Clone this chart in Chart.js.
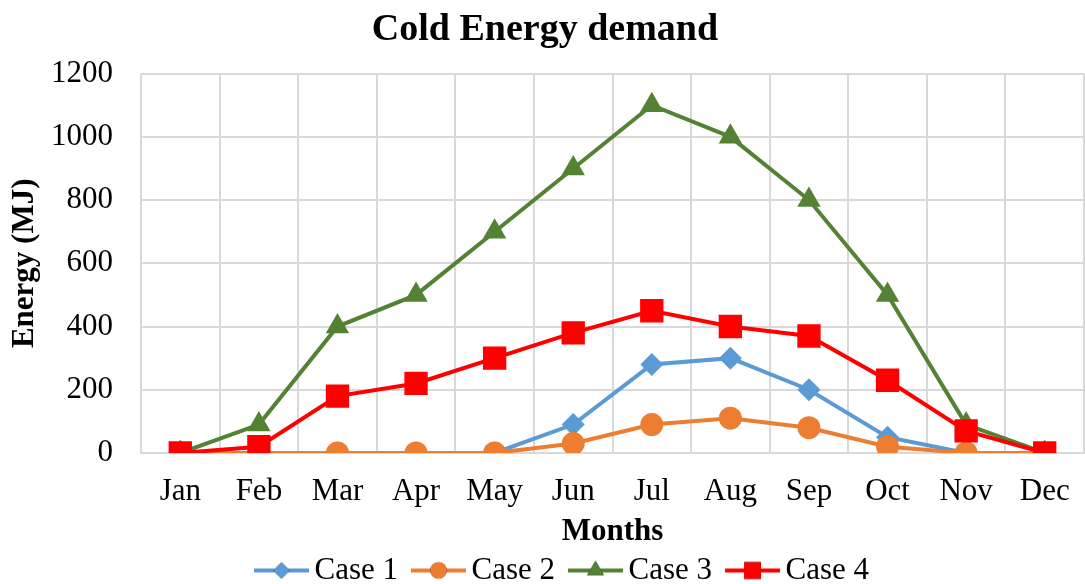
<!DOCTYPE html>
<html>
<head>
<meta charset="utf-8">
<script src="https://cdn.jsdelivr.net/npm/chart.js@4/dist/chart.umd.min.js"></script>
<style>
  html, body { margin: 0; padding: 0; background: #fff; }
  #wrap { width: 1085px; height: 584px; }
</style>
</head>
<body>
<div id="wrap"><canvas id="myChart" width="1085" height="584"></canvas></div>
<script>
const months = ["Jan", "Feb", "Mar", "Apr", "May", "Jun", "Jul", "Aug", "Sep", "Oct", "Nov", "Dec"];
const case1 = [0, 0, 0, 0, 0, 90, 280, 300, 200, 50, 0, 0];
const case2 = [0, 0, 0, 0, 0, 30, 90, 110, 80, 20, 0, 0];
const case3 = [0, 90, 400, 500, 700, 900, 1100, 1000, 800, 500, 90, 0];
const case4 = [0, 20, 180, 220, 300, 380, 450, 400, 370, 230, 70, 0];
const yTicks = [0, 200, 400, 600, 800, 1000, 1200];

const font = "'Liberation Serif', 'Times New Roman', serif";

// small canvas with line + marker for the legend (blank space on the left
// so the visible part sits closer to its text)
function legendIcon(color, style, r) {
  const c = document.createElement("canvas");
  c.width = 74;
  c.height = 30;
  const g = c.getContext("2d");
  g.strokeStyle = color;
  g.lineWidth = 4;
  g.beginPath();
  g.moveTo(19, 15);
  g.lineTo(74, 15);
  g.stroke();
  Chart.helpers.drawPoint(g, { pointStyle: style, radius: r, rotation: 0, borderWidth: 0 }, 46.5, 15);
  g.fillStyle = color;
  g.fill();
  return c;
}

// legend sits a little right of centre in the original
const legendShift = {
  id: "legendShift",
  afterLayout(chart) {
    chart.legend.left += 12;
    chart.legend.right += 12;
  },
};

const ctx = document.getElementById("myChart");

const series = [
  { label: "Case 1", data: case1, color: "#5B9BD5", style: "rectRot", r: 11.5, order: 4 },
  { label: "Case 2", data: case2, color: "#ED7D31", style: "circle", r: 11.5, order: 3 },
  { label: "Case 3", data: case3, color: "#548235", style: "triangle", r: 13.5, order: 2 },
  { label: "Case 4", data: case4, color: "#FF0000", style: "rect", r: 16.5, order: 1 },
];

new Chart(ctx, {
  type: "line",
  data: {
    labels: months,
    datasets: series.map((s) => ({
      label: s.label,
      data: s.data,
      borderColor: s.color,
      backgroundColor: s.color,
      borderWidth: 4,
      pointStyle: s.style,
      pointRadius: s.r,
      pointHoverRadius: s.r,
      pointBorderWidth: 0,
      tension: 0,
      order: s.order,
      icon: legendIcon(s.color, s.style, s.r * 0.72),
    })),
  },
  plugins: [legendShift],
  options: {
    responsive: false,
    maintainAspectRatio: false,
    animation: false,
    layout: { autoPadding: false, padding: { left: 6, right: 1, top: 0, bottom: -12 } },
    plugins: {
      title: {
        display: true,
        text: "Cold Energy demand",
        color: "#000",
        font: { family: font, size: 38, weight: "bold" },
        padding: { top: 7, bottom: 21 },
      },
      legend: {
        position: "bottom",
        labels: {
          color: "#000",
          font: { family: font, size: 31 },
          usePointStyle: true,
          pointStyleWidth: 54,
          boxHeight: 28,
          padding: 4,
          generateLabels: (chart) =>
            chart.data.datasets.map((d, i) => ({
              text: d.label,
              pointStyle: d.icon,
              fillStyle: d.borderColor,
              strokeStyle: d.borderColor,
              lineWidth: 0,
              datasetIndex: i,
              fontColor: "#000",
            })),
        },
      },
      tooltip: { enabled: false },
    },
    scales: {
      x: {
        offset: true,
        afterFit: (scale) => {
          scale.height = 98;
          scale.paddingLeft = 0;
          scale.paddingRight = 0;
        },
        grid: { offset: true, color: "#D9D9D9", lineWidth: 2, drawTicks: false },
        border: { color: "#D9D9D9", width: 2 },
        ticks: { color: "#000", font: { family: font, size: 31 }, padding: 20 },
        title: {
          display: true,
          text: "Months",
          color: "#000",
          font: { family: font, size: 31, weight: "bold" },
          padding: { top: 3, bottom: 0 },
        },
      },
      y: {
        min: 0,
        max: 1200,
        afterFit: (scale) => {
          scale.width = 135;
        },
        afterBuildTicks: (axis) => {
          axis.ticks = yTicks.map((v) => ({ value: v }));
        },
        grid: { color: "#D9D9D9", lineWidth: 2, drawTicks: false },
        border: { color: "#D9D9D9", width: 2 },
        ticks: {
          color: "#000",
          font: { family: font, size: 31 },
          padding: 28,
          callback: (v) => String(v),
        },
        title: {
          display: true,
          text: "Energy (MJ)",
          color: "#000",
          font: { family: font, size: 31, weight: "bold" },
          padding: { top: 0, bottom: 8 },
        },
      },
    },
  },
});
</script>
</body>
</html>
